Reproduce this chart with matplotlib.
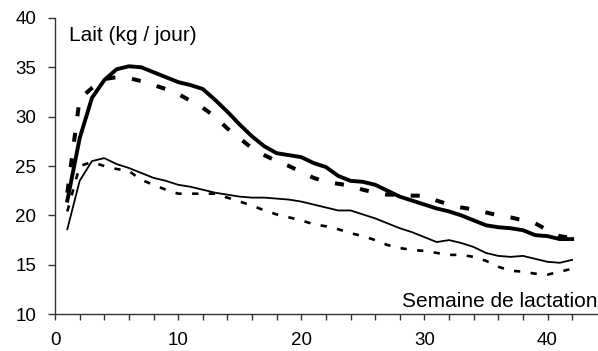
import matplotlib
matplotlib.use('Agg')
import matplotlib.pyplot as plt

plt.rcParams['font.family'] = ['Liberation Sans', 'DejaVu Sans']
plt.rcParams['lines.scale_dashes'] = False

semaines = list(range(1, 43))

# gros trait plein
haut_plein = [21.5, 27.8, 31.9, 33.7, 34.8, 35.1, 35.0, 34.5, 34.0, 33.5,
              33.2, 32.8, 31.7, 30.5, 29.2, 28.0, 27.0, 26.3, 26.1, 25.9,
              25.3, 24.9, 24.0, 23.5, 23.4, 23.1, 22.5, 21.9, 21.5, 21.1,
              20.7, 20.4, 20.0, 19.5, 19.0, 18.8, 18.7, 18.5, 18.0, 17.9,
              17.6, 17.6]
# gros pointillé
haut_tirets = [22.3, 31.8, 32.9, 33.8, 34.0, 33.9, 33.6, 33.2, 32.8, 32.3,
               31.6, 30.9, 30.0, 28.8, 27.8, 26.8, 26.1, 25.5, 25.0, 24.4,
               23.8, 23.4, 23.2, 23.0, 22.6, 22.3, 22.1, 22.1, 22.0, 22.0,
               21.5, 21.1, 20.8, 20.6, 20.3, 20.0, 19.8, 19.5, 19.2, 18.5,
               17.9, 17.7]
# trait fin plein
bas_plein = [18.6, 23.5, 25.5, 25.8, 25.2, 24.8, 24.3, 23.8, 23.5, 23.1,
             22.9, 22.6, 22.3, 22.1, 21.9, 21.8, 21.8, 21.7, 21.6, 21.4,
             21.1, 20.8, 20.5, 20.5, 20.1, 19.7, 19.2, 18.7, 18.3, 17.8,
             17.3, 17.5, 17.2, 16.8, 16.2, 15.9, 15.8, 15.9, 15.6, 15.3,
             15.2, 15.5]
# petit pointillé
bas_tirets = [20.4, 25.0, 25.4, 25.0, 24.7, 24.5, 23.6, 23.1, 22.6, 22.2,
              22.2, 22.2, 22.2, 21.8, 21.4, 21.0, 20.5, 20.1, 19.8, 19.5,
              19.1, 18.9, 18.6, 18.2, 17.9, 17.5, 17.0, 16.7, 16.5, 16.4,
              16.2, 16.0, 16.0, 15.8, 15.4, 14.8, 14.4, 14.3, 14.1, 14.0,
              14.3, 14.6]

fig = plt.figure(figsize=(5.98, 3.51), dpi=100)
ax = fig.add_axes([0.092, 0.105, 0.908, 0.844])

ax.plot(semaines, haut_tirets, color='black', lw=2.9, dashes=(6.5, 12))
ax.plot(semaines, haut_plein, color='black', lw=2.8)
ax.plot(semaines, bas_tirets, color='black', lw=1.9, dashes=(4.5, 7.5))
ax.plot(semaines, bas_plein, color='black', lw=1.3)

ax.set_xlim(0, 44.1)
ax.set_ylim(10, 40)
ax.set_xticks([0, 10, 20, 30, 40])
ax.set_xticks(range(0, 44, 2), minor=True)
ax.set_yticks(range(10, 41, 5))

for s in ['top', 'right']:
    ax.spines[s].set_visible(False)
for s in ['left', 'bottom']:
    ax.spines[s].set_color('#333333')
    ax.spines[s].set_linewidth(1.0)

ax.tick_params(which='both', direction='out', width=1.0,
               color='#333333', labelsize=13.5)
ax.tick_params(axis='y', length=5, pad=8.5)
ax.tick_params(axis='x', which='both', length=4.5, pad=8)

ax.text(1.1, 37.7, 'Lait (kg / jour)', fontsize=15, va='baseline')
ax.text(28.2, 10.75, 'Semaine de lactation', fontsize=15, va='baseline',
        clip_on=False)

fig.savefig('out.png', dpi=100)
